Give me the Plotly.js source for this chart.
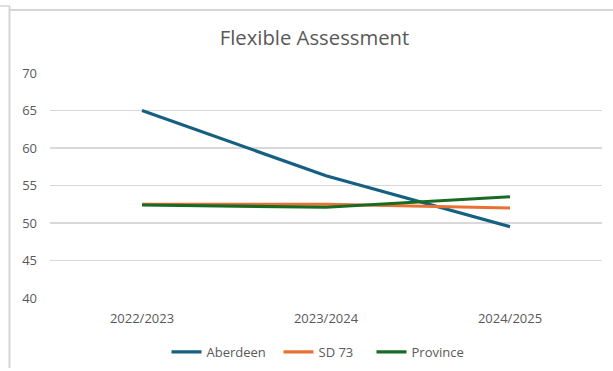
<!DOCTYPE html>
<html>
<head>
<meta charset="utf-8">
<script src="https://cdn.plot.ly/plotly-3.0.1.min.js"></script>
<style>
  html, body { margin: 0; padding: 0; background: #ffffff; }
  #chart { width: 613px; height: 371px; }
</style>
</head>
<body>
<div id="chart"></div>
<script>
// School years on the category axis
const years = ['2022/2023', '2023/2024', '2024/2025'];

// Flexible Assessment results per group
const aberdeen = [65.0, 56.3, 49.5];
const sd73 = [52.5, 52.5, 52.0];
const province = [52.4, 52.1, 53.5];

// Value axis ticks
const yTicks = [40, 45, 50, 55, 60, 65, 70];

const textGrey = '#595959';
const gridGrey = '#d9d9d9';
const frameGrey = '#d6d6d6';

function series(name, values, color, entryWidth) {
  return {
    type: 'scatter',
    mode: 'lines',
    name: name,
    x: years,
    y: values,
    line: { color: color, width: 3.2 },
    legendwidth: entryWidth,
    hoverinfo: 'x+y+name'
  };
}

const data = [
  series('Aberdeen', aberdeen, '#156082', 67),
  series('SD 73', sd73, '#E97132', 48),
  series('Province', province, '#196B24', 55)
];

// Plot-area geometry, used to place the outer frame in paper units
const L = 50, R = 11, T = 73, B = 73, W = 613, H = 371;
const pw = W - L - R, ph = H - T - B;
const px = v => (v - L) / pw;
const py = v => (H - B - v) / ph;

const layout = {
  width: W,
  height: H,
  margin: { l: L, r: R, t: T, b: B, pad: 0 },
  paper_bgcolor: '#ffffff',
  plot_bgcolor: '#ffffff',
  font: { family: 'Open Sans, Roboto, sans-serif', color: textGrey, size: 13 },
  title: {
    text: 'Flexible Assessment',
    font: { family: 'Open Sans, Roboto, sans-serif', size: 20.3, color: textGrey },
    xref: 'container', yref: 'container',
    x: 314.5 / W, y: 1 - 38 / H,
    xanchor: 'center', yanchor: 'middle'
  },
  xaxis: {
    type: 'category',
    range: [-0.5, 2.5],
    showgrid: false,
    zeroline: false,
    showline: false,
    ticks: '',
    ticklabelstandoff: 11,
    tickfont: { size: 13, color: textGrey },
    fixedrange: true
  },
  yaxis: {
    range: [40, 70],
    tickvals: yTicks,
    ticktext: yTicks.map(String),
    showgrid: true,
    gridcolor: gridGrey,
    gridwidth: 1.3,
    zeroline: false,
    showline: false,
    ticks: '',
    ticklabelstandoff: 12,
    tickfont: { size: 13, color: textGrey },
    fixedrange: true
  },
  showlegend: true,
  legend: {
    orientation: 'h',
    xref: 'container', yref: 'container',
    x: 319 / W, y: 1 - 352 / H,
    xanchor: 'center', yanchor: 'middle',
    font: { size: 13, color: textGrey },
    itemwidth: 30,
    bgcolor: 'rgba(0,0,0,0)'
  },
  shapes: [
    // outer chart frame: left edge, top edge and the short tab at the corner
    { type: 'line', xref: 'paper', yref: 'paper', x0: px(9.5), x1: px(9.5), y0: py(6), y1: py(368),
      line: { color: frameGrey, width: 2 } },
    { type: 'line', xref: 'paper', yref: 'paper', x0: px(10), x1: px(613), y0: py(10), y1: py(10),
      line: { color: frameGrey, width: 2 } },
    { type: 'line', xref: 'paper', yref: 'paper', x0: px(0), x1: px(10), y0: py(6), y1: py(6),
      line: { color: frameGrey, width: 1.5 } }
  ]
};

Plotly.newPlot('chart', data, layout, { displayModeBar: false, staticPlot: true });
</script>
</body>
</html>
